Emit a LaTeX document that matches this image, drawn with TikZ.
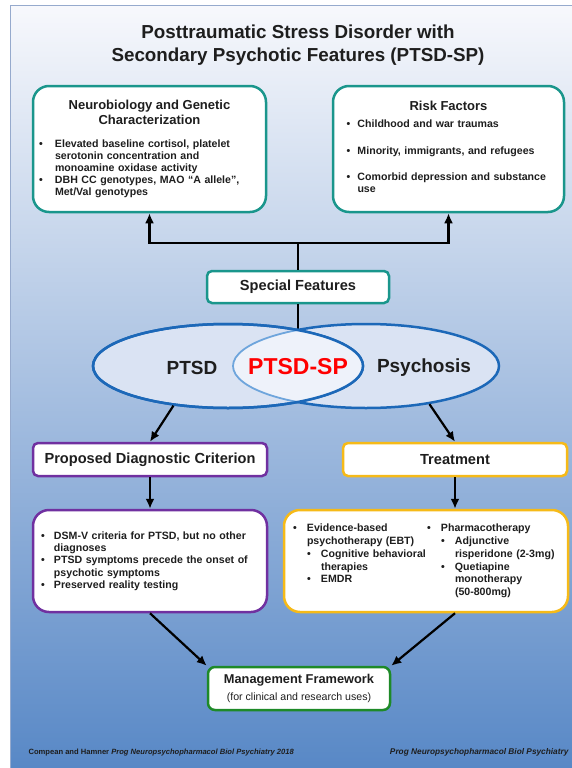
\documentclass[tikz,border=0pt]{standalone}
\usepackage{fontspec}
\setmainfont{Liberation Sans}
\usetikzlibrary{arrows.meta,shapes.geometric}

\definecolor{bgtop}{RGB}{247,248,252}
\definecolor{bgmid}{RGB}{200,213,236}
\definecolor{bgbot}{RGB}{88,136,198}
\definecolor{bgline}{RGB}{150,170,205}
\definecolor{tealbox}{RGB}{26,150,140}
\definecolor{purplebox}{RGB}{112,48,160}
\definecolor{goldbox}{RGB}{246,186,24}
\definecolor{greenbox}{RGB}{30,138,40}
\definecolor{vennblue}{RGB}{28,104,184}
\definecolor{vennfill}{RGB}{218,227,243}
\definecolor{lensfill}{RGB}{238,242,250}
\definecolor{lensline}{RGB}{110,165,220}
\definecolor{inkdark}{RGB}{30,30,30}

% bullet lines
\newcommand{\bul}[2][14pt]{\par\noindent\hangindent=#1\hangafter=1\makebox[#1][l]{\textbullet}#2}
\newcommand{\subbul}[1]{\par\noindent\hangindent=28pt\hangafter=1\hspace*{14pt}\makebox[14pt][l]{\textbullet}#1}

\begin{document}
\begin{tikzpicture}[x=1pt,y=-1pt,
    >={Latex[length=10pt,width=9pt]},
    every node/.style={align=center, text=inkdark, font=\bfseries},
    box/.style={draw, line width=2.5pt, fill=white, rounded corners=16pt, inner sep=0pt},
    headbox/.style={draw, line width=2.5pt, fill=white, rounded corners=5pt, inner sep=0pt,
                    font=\bfseries\fontsize{14.6}{17}\selectfont},
    small/.style={font=\bfseries\fontsize{10.6}{12.2}\selectfont},
    link/.style={line width=2.2pt}]
    \useasboundingbox (0,0) rectangle (572,768);
    % fond
    \shade[top color=bgtop, middle color=bgmid, bottom color=bgbot] (10,6) rectangle (572,768);
    \draw[bgline, line width=1pt] (10,768) -- (10,6) -- (572,6);

    % titre
    \node[font=\bfseries\fontsize{18.8}{23}\selectfont] (title) at (298,45)
        {Posttraumatic Stress Disorder with\\Secondary Psychotic Features (PTSD-SP)};

    % cadres du haut
    \node[box, draw=tealbox, small, minimum width=233pt, minimum height=126pt,
          text width=221pt, align=left] (neuro) at (149.5,149)
        {{\centering\fontsize{13}{15.5}\selectfont Neurobiology and Genetic\\Characterization\par}
         \vspace{10pt}
         \bul[16pt]{Elevated baseline cortisol, platelet\newline serotonin concentration and\newline monoamine oxidase activity}
         \bul[16pt]{DBH CC genotypes, MAO “A allele”,\newline Met/Val genotypes}\par};
    \node[box, draw=tealbox, small, minimum width=231pt, minimum height=126pt,
          text width=204pt, align=left] (risk) at (448.5,149)
        {{\centering\fontsize{13}{15}\selectfont Risk Factors\par}
         \vspace{5pt}
         \bul[11pt]{Childhood and war traumas}\par\vspace{14pt}
         \bul[11pt]{Minority, immigrants, and refugees}\par\vspace{14pt}
         \bul[11pt]{Comorbid depression and substance\newline use}\par\vspace{4pt}};

    \node[headbox, draw=tealbox, minimum width=182pt, minimum height=32pt] (special) at (298,287) {Special Features};
    \coordinate (split) at (298,243);
    \coordinate (lenstop) at (298,330);

    \draw[link] (special.north) -- (split);
    \draw[link,->] (split) -| (neuro.south);
    \draw[link,->] (split) -| (risk.south);
    \draw[link] (special.south) -- (lenstop);

    % diagramme de Venn
    \node[ellipse, draw=vennblue, line width=2.5pt, fill=vennfill, inner sep=0pt,
          minimum width=266pt, minimum height=84pt] (psychosis) at (366,366) {};
    \node[ellipse, draw=vennblue, line width=2.5pt, fill=vennfill, inner sep=0pt,
          minimum width=270pt, minimum height=84pt] (ptsd) at (228,366) {};
    \begin{scope}
        \clip (228,366) ellipse [x radius=135, y radius=42];
        \fill[lensfill] (366,366) ellipse [x radius=133, y radius=42];
        \draw[lensline, line width=1.8pt] (366,366) ellipse [x radius=133, y radius=42];
    \end{scope}
    \draw[vennblue, line width=2.5pt] (228,366) ellipse [x radius=135, y radius=42];

    \node[font=\bfseries\fontsize{19}{22}\selectfont] (ptsdtext) at (192,368) {PTSD};
    \node[font=\bfseries\fontsize{23}{26}\selectfont, text=red] (sptext) at (298,367) {PTSD-SP};
    \node[font=\bfseries\fontsize{19}{22}\selectfont] (psytext) at (424,368) {Psychosis};

    % diagnostic et traitement
    \node[headbox, draw=purplebox, minimum width=234pt, minimum height=33pt] (diag) at (150,459.5) {Proposed Diagnostic Criterion};
    \node[headbox, draw=goldbox, minimum width=224pt, minimum height=33pt] (treat) at (455,459.5) {Treatment};

    \node[box, draw=purplebox, small, minimum width=234pt, minimum height=102pt,
          text width=218pt, align=left] (criteria) at (150,561)
        {\bul[13pt]{DSM-V criteria for PTSD, but no other\newline diagnoses}
         \bul[13pt]{PTSD symptoms precede the onset of\newline psychotic symptoms}
         \bul[13pt]{Preserved reality testing}\par\vspace{4pt}};
    \node[box, draw=goldbox, font=\bfseries\fontsize{10.6}{12.8}\selectfont,
          minimum width=284pt, minimum height=102pt,
          text width=266pt, align=left] (therapy) at (426,561)
        {\begin{minipage}[t]{134pt}\raggedright
            \bul{Evidence-based\newline psychotherapy (EBT)}
            \subbul{Cognitive behavioral\newline therapies}
            \subbul{EMDR}
         \end{minipage}%
         \begin{minipage}[t]{132pt}\raggedright
            \bul{Pharmacotherapy}
            \subbul{Adjunctive\newline risperidone (2-3mg)}
            \subbul{Quetiapine\newline monotherapy\newline (50-800mg)}
         \end{minipage}};

    \draw[link,->] (ptsd.216) -- (diag.north);
    \draw[link,->] (psychosis.-31) -- (treat.north);
    \draw[link,->] (diag.south) -- (criteria.north);
    \draw[link,->] (treat.south) -- (treat.south |- therapy.north);

    % cadre final
    \node[headbox, draw=greenbox, minimum width=182pt, minimum height=43pt, rounded corners=7pt]
        (mgmt) at (299,688.5)
        {{\fontsize{12.8}{15}\selectfont Management Framework}\\
         {\mdseries\fontsize{10.6}{12}\selectfont (for clinical and research uses)}};
    \draw[link,->] (criteria.south) -- (mgmt.north west);
    \draw[link,->] (therapy.south -| treat.south) -- (mgmt.north east);

    % pied de page
    \node[anchor=base west, font=\bfseries\fontsize{7.6}{9}\selectfont] (cite) at (25,754)
        {Compean and Hamner \textit{Prog Neuropsychopharmacol Biol Psychiatry 2018}};
    \node[anchor=base east, font=\bfseries\itshape\fontsize{8.3}{9}\selectfont] (journal) at (572,754)
        {Prog Neuropsychopharmacol Biol Psychiatry};
\end{tikzpicture}
\end{document}
